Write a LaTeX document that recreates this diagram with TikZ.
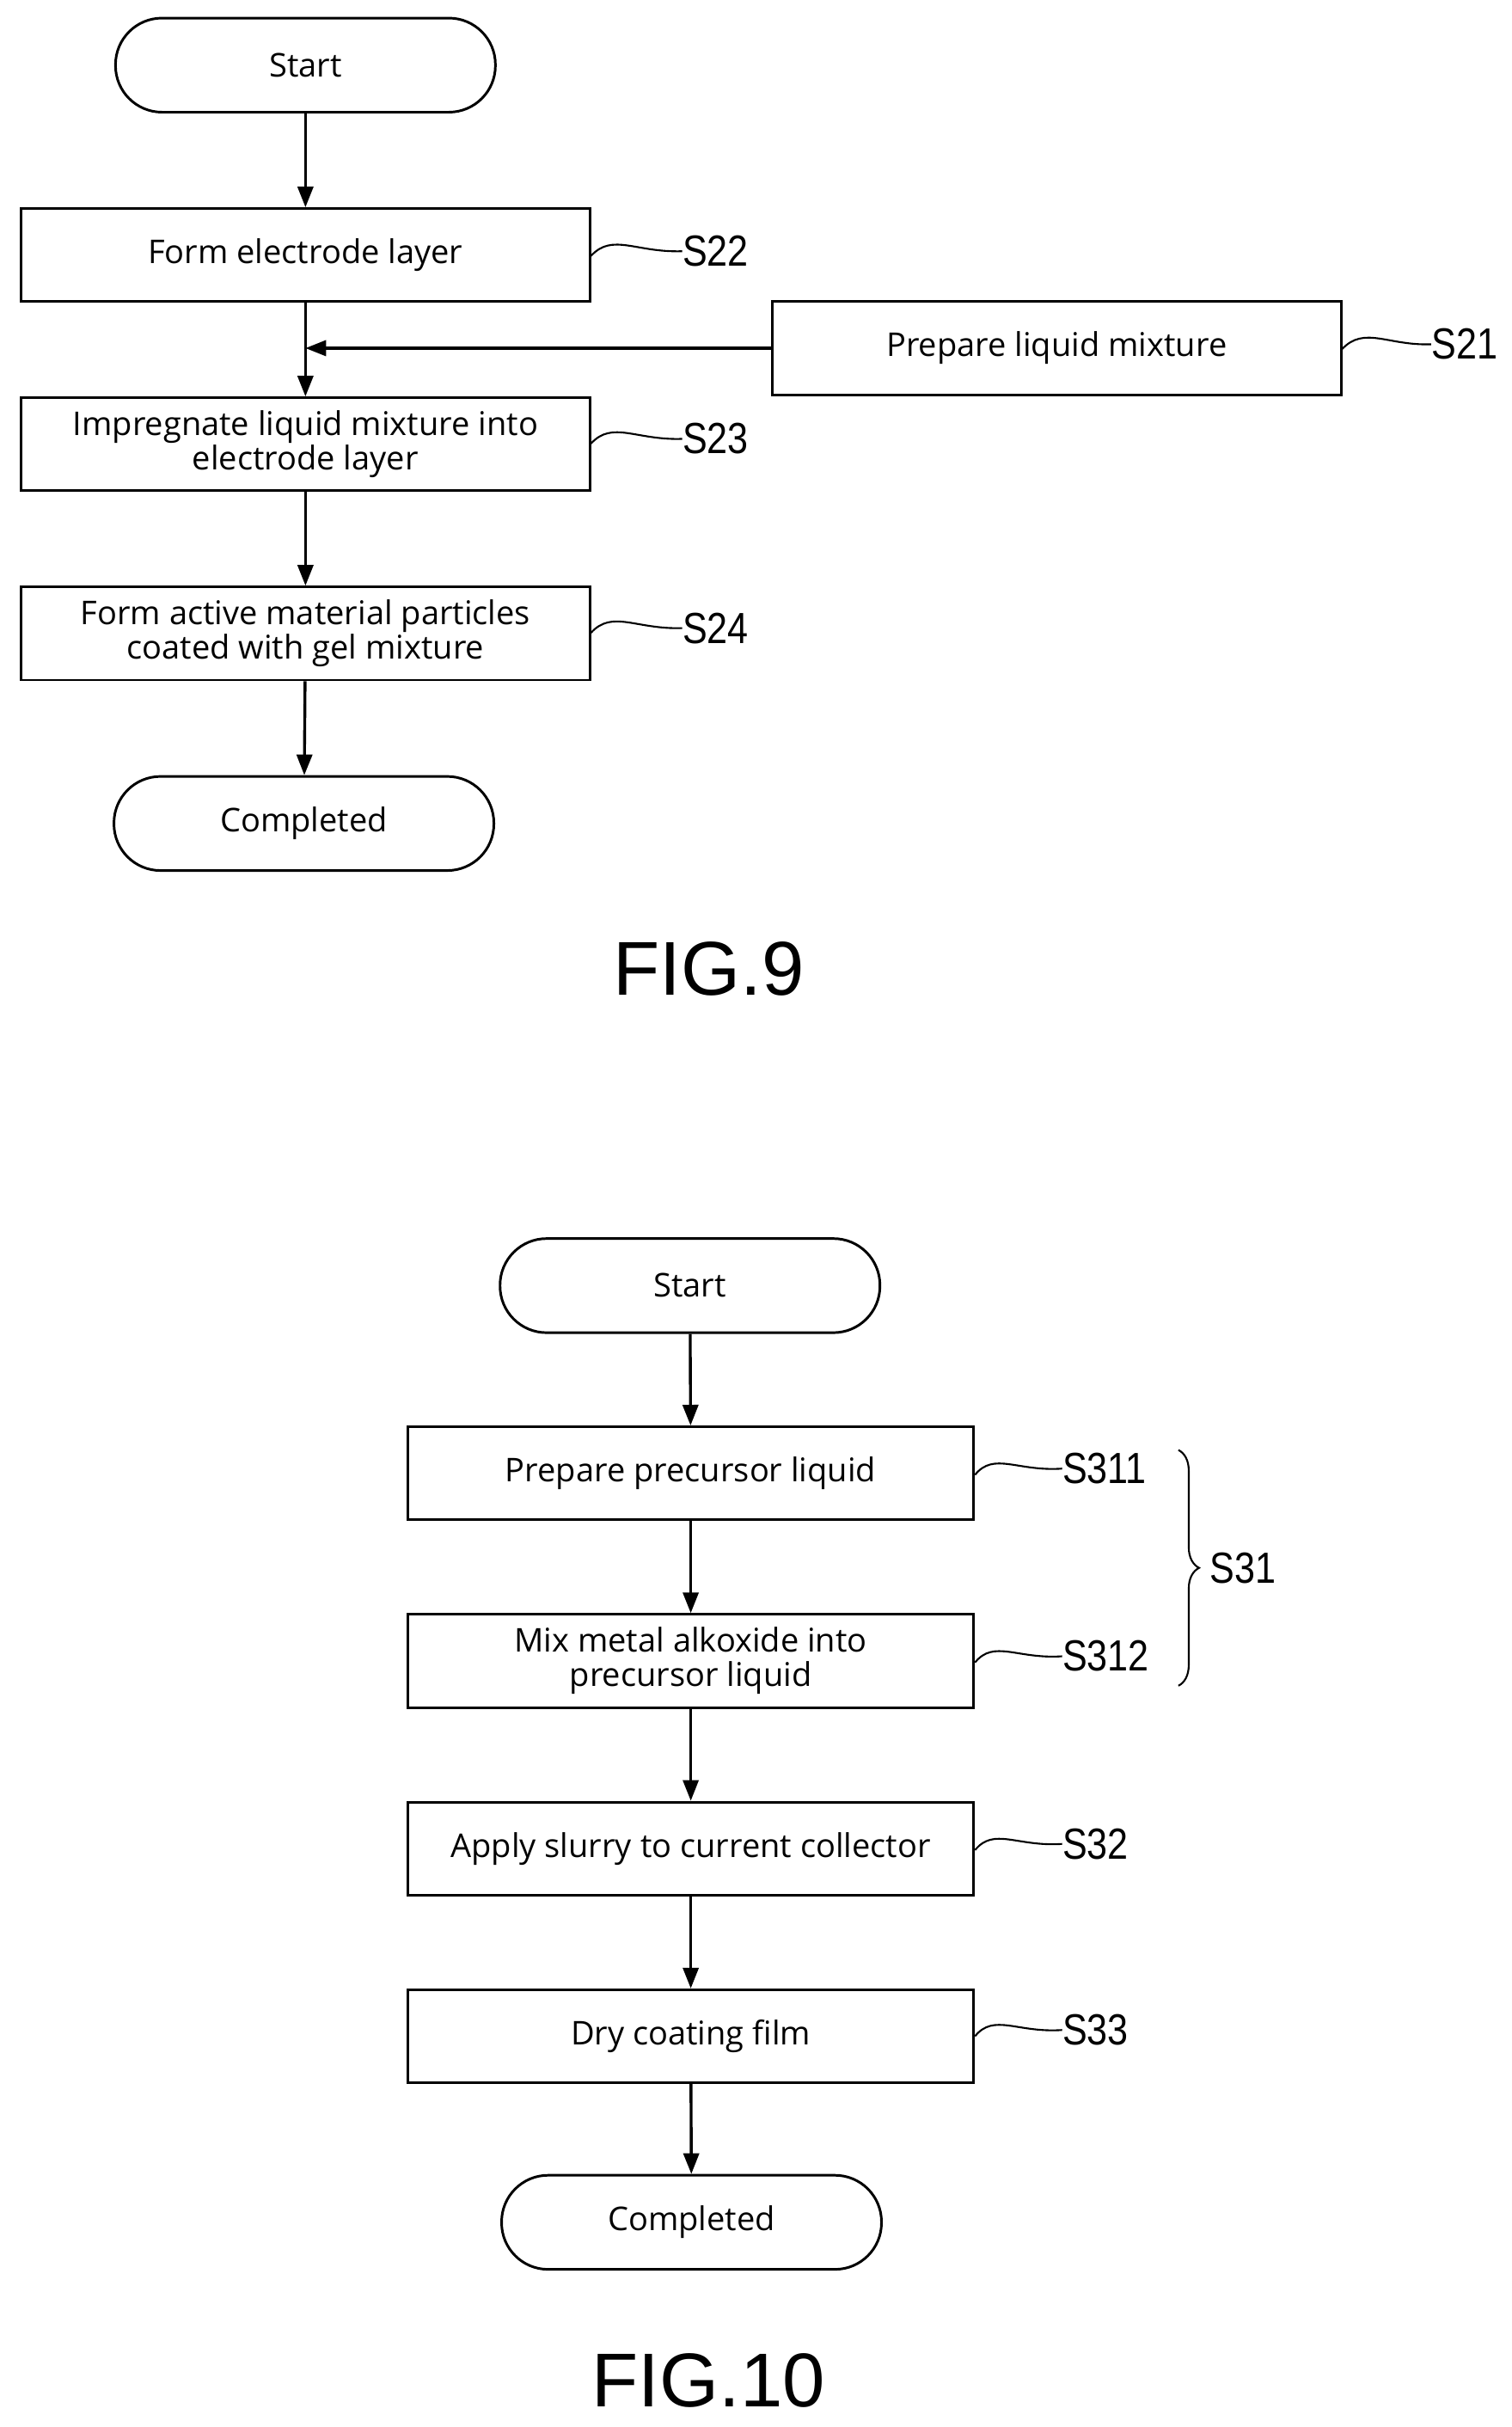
\documentclass[tikz,border=0pt]{standalone}
\usepackage{fontspec}
\setmainfont{Open Sans}
\newfontfamily\lab{Liberation Sans}
\usetikzlibrary{arrows.meta,decorations.pathreplacing}
\begin{document}
\begin{tikzpicture}[x=0.03cm,y=-0.03cm,
 box/.style={draw,line width=1.4pt,minimum width=11.0cm,minimum height=1.8cm,align=center,inner sep=0pt,font=\fontsize{18}{19}\selectfont},
 box2/.style={box,minimum width=10.95cm},
 term/.style={draw,line width=1.4pt,rounded corners=0.9cm,minimum width=7.35cm,minimum height=1.82cm,font=\fontsize{18}{19}\selectfont},
 arr/.style={line width=1.6pt,-{Triangle[length=0.4cm,width=0.3cm]}},
 lead/.style={line width=1pt},
 lbl/.style={font=\lab\fontsize{24}{24}\selectfont,scale=1,xscale=0.85,anchor=west,inner sep=0pt},
 fig/.style={font=\lab\fontsize{42}{42}\selectfont}]
\useasboundingbox (0,0) rectangle (975,1565);
% FIG 9
\node[term] (st9) at (197,42) {Start};
\node[box] (s22) at (197,164.5) {Form electrode layer};
\node[box] (s21) at (681.5,224.5) {Prepare liquid mixture};
\node[box] (s23) at (197,286.5) {Impregnate liquid mixture into\\electrode layer};
\node[box] (s24) at (197,408.5) {Form active material particles\\coated with gel mixture};
\node[term] (en9) at (196,531) {Completed};
\coordinate (j) at (197,224.5);
\draw[arr] (st9) -- (s22);
\draw[arr] (s22) -- (s23);
\draw[arr] (s21) -- (j);
\draw[arr] (s23) -- (s24);
\draw[arr] (s24) -- (en9);
\node[lbl] (l22) at (440,162) {S22};
\node[lbl] (l21) at (923,222) {S21};
\node[lbl] (l23) at (440,283) {S23};
\node[lbl] (l24) at (440,405) {S24};
\draw[lead] (s22.east|-0,165) .. controls (395,150) and (410,163) .. (l22.west);
\draw[lead] (s21.east|-0,225) .. controls (880,210) and (895,223) .. (l21.west);
\draw[lead] (s23.east|-0,286) .. controls (395,271) and (410,284) .. (l23.west);
\draw[lead] (s24.east|-0,408) .. controls (395,393) and (410,406) .. (l24.west);
\node[fig] (f9) at (457,625) {FIG.9};
% FIG 10
\node[term] (st10) at (445,829) {Start};
\node[box2] (s311) at (445.5,950) {Prepare precursor liquid};
\node[box2] (s312) at (445.5,1071) {Mix metal alkoxide into\\precursor liquid};
\node[box2] (s32) at (445.5,1192) {Apply slurry to current collector};
\node[box2] (s33) at (445.5,1313) {Dry coating film};
\node[term] (en10) at (446,1433) {Completed};
\draw[arr] (st10) -- (s311);
\draw[arr] (s311) -- (s312);
\draw[arr] (s312) -- (s32);
\draw[arr] (s32) -- (s33);
\draw[arr] (s33) -- (en10);
\node[lbl] (l311) at (685,947) {S311};
\node[lbl] (l312) at (685,1068) {S312};
\node[lbl] (l32) at (685,1189) {S32};
\node[lbl] (l33) at (685,1309) {S33};
\draw[lead] (s311.east|-0,951) .. controls (641,936) and (656,949) .. (l311.west);
\draw[lead] (s312.east|-0,1072) .. controls (641,1057) and (656,1070) .. (l312.west);
\draw[lead] (s32.east|-0,1193) .. controls (641,1178) and (656,1191) .. (l32.west);
\draw[lead] (s33.east|-0,1313) .. controls (641,1298) and (656,1311) .. (l33.west);
\coordinate (b1) at (760,935);
\coordinate (b2) at (760,1087);
\draw[line width=1pt,decorate,decoration={brace,amplitude=0.4cm}] (b1) -- (b2);
\node[lbl] (l31) at (780,1011) {S31};
\node[fig] (f10) at (457,1535) {FIG.10};
\end{tikzpicture}
\end{document}
